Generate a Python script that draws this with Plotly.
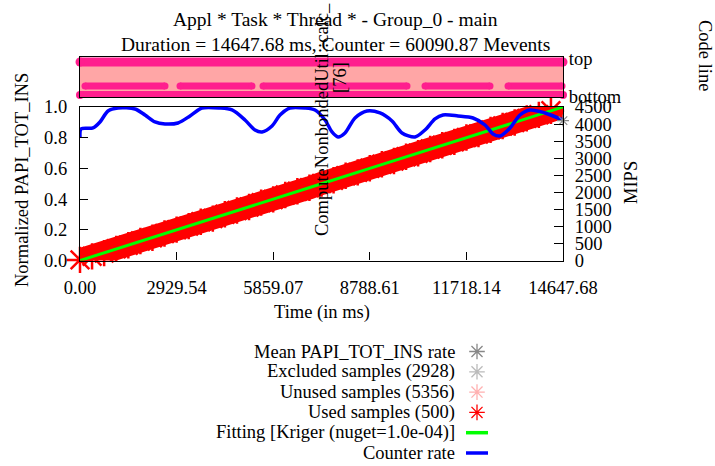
import plotly.graph_objects as go

W, H = 715, 466
FONT = "Liberation Serif"
FS = 18.5

# ---------------- data ----------------
title_line1 = "Appl * Task * Thread * - Group_0 - main"
duration_ms = 14647.68
counter_mevents = 60090.87
excluded_count = 2928
unused_count = 5356
used_count = 500
nugget = "1.0e-04"
code_label = "ComputeNonbondedUtil::calc_"
code_line_id = "[76]"

x_tick_vals = [0.00, 2929.54, 5859.07, 8788.61, 11718.14, 14647.68]
x_tick_text = ["0.00", "2929.54", "5859.07", "8788.61", "11718.14", "14647.68"]
norm_tick_vals = [0.0, 0.2, 0.4, 0.6, 0.8, 1.0]
mips_tick_vals = [0, 500, 1000, 1500, 2000, 2500, 3000, 3500, 4000, 4500]
strip_tick_vals = [0.0, 0.95]
strip_tick_text = ["bottom", "top"]

# used samples (normalized PAPI_TOT_INS vs time)
used_t = [0, 366, 732, 1099, 1465, 1831, 2197, 2563, 2930, 3296, 3662, 4028, 4394,
          4761, 5127, 5493, 5859, 6225, 6592, 6958, 7324, 7690, 8056, 8422, 8789,
          9155, 9521, 9887, 10253, 10620, 10986, 11352, 11718, 12084, 12451, 12817,
          13183, 13549, 13915, 14282, 14648]
used_norm = [0.004, 0.027, 0.048, 0.076, 0.099, 0.127, 0.148, 0.176, 0.201, 0.224,
             0.252, 0.273, 0.301, 0.326, 0.349, 0.377, 0.398, 0.427, 0.451, 0.474,
             0.502, 0.523, 0.552, 0.574, 0.601, 0.627, 0.648, 0.676, 0.699, 0.726,
             0.751, 0.773, 0.801, 0.824, 0.851, 0.876, 0.899, 0.926, 0.949, 0.976, 1.0]

# kriging fit
fit_t = [0, 1465, 2930, 4394, 5859, 7324, 8789, 10253, 11718, 13183, 14648]
fit_norm = [0.0, 0.099, 0.199, 0.299, 0.400, 0.500, 0.600, 0.700, 0.800, 0.900, 1.0]

# counter rate (MIPS)
rate_t = [0, 30, 394, 606, 849, 1152, 1668, 1971, 2274, 2578, 2972, 3336, 3700,
          4246, 4610, 5004, 5307, 5520, 5823, 6065, 6369, 6824, 7127, 7430, 7642,
          7824, 8037, 8340, 8704, 9098, 9462, 9765, 10159, 10463, 10766, 11009,
          11464, 11919, 12283, 12525, 12737, 13041, 13344, 13647, 14102, 14648]
rate_mips = [3621, 3856, 3885, 4061, 4383, 4471, 4442, 4266, 4061, 4002, 4032, 4237,
             4471, 4471, 4413, 4120, 3826, 3768, 3944, 4266, 4471, 4471, 4413, 4120,
             3768, 3621, 3738, 4178, 4383, 4325, 4090, 3738, 3621, 3826, 4149, 4266,
             4237, 4178, 3973, 3709, 3650, 3885, 4266, 4413, 4325, 4120]

mean_rate_mips = 4102.4

# code line strip (time spans of samples on each row)
strip_top_t = [0, 14647.68]
strip_top_y = 0.875
strip_bottom_t = [0, 14647.68]
strip_bottom_y = 0.05
strip_mid_start = [152, 3033, 5550, 10463, 12980]
strip_mid_end = [2578, 5216, 9917, 12434, 14618]
strip_mid_y = 0.275

legend_labels = [
    "Mean PAPI_TOT_INS rate",
    f"Excluded samples ({excluded_count})",
    f"Unused samples ({unused_count})",
    f"Used samples ({used_count})",
    f"Fitting [Kriger (nuget={nugget})]",
    "Counter rate",
]

# ---------------- styling ----------------
RED = "#ff0000"
GREEN = "#00ff00"
BLUE = "#0000ff"
PINK = "#ff1e8e"
LIGHTPINK = "#ffa6a6"
CLEAR = "rgba(0,0,0,0)"


def px(x):
    return x / W


def py(y):
    return 1 - y / H


X0, X1 = 80, 563
Y_BOT, Y_TOP = 260.5, 107
S_BOT, S_TOP = 97, 57

fig = go.Figure()

# ---- strip ----
fig.add_trace(go.Scatter(x=strip_bottom_t, y=[strip_bottom_y] * 2, mode="lines",
                         line=dict(color=LIGHTPINK, width=0), xaxis="x3", yaxis="y3",
                         showlegend=False, hoverinfo="skip"))
fig.add_trace(go.Scatter(x=strip_top_t, y=[strip_top_y] * 2, mode="lines", fill="tonexty",
                         fillcolor=LIGHTPINK, line=dict(color=LIGHTPINK, width=0),
                         xaxis="x3", yaxis="y3", showlegend=False, hoverinfo="skip"))
fig.add_trace(go.Scatter(x=strip_top_t, y=[strip_top_y] * 2, mode="lines+markers",
                         line=dict(color=PINK, width=9), marker=dict(color=PINK, size=9),
                         cliponaxis=False, xaxis="x3", yaxis="y3", showlegend=False))
fig.add_trace(go.Scatter(x=strip_bottom_t, y=[strip_bottom_y] * 2, mode="lines+markers",
                         line=dict(color=PINK, width=8), marker=dict(color=PINK, size=8),
                         cliponaxis=False, xaxis="x3", yaxis="y3", showlegend=False))
mid_x, mid_y = [], []
for s, e in zip(strip_mid_start, strip_mid_end):
    mid_x += [s, e, None]
    mid_y += [strip_mid_y, strip_mid_y, None]
fig.add_trace(go.Scatter(x=mid_x, y=mid_y, mode="lines+markers",
                         line=dict(color=PINK, width=7), marker=dict(color=PINK, size=7),
                         cliponaxis=False, xaxis="x3", yaxis="y3", showlegend=False))

# ---- main plot ----
fig.add_trace(go.Scatter(x=used_t, y=used_norm, mode="lines+markers",
                         line=dict(color=RED, width=23),
                         marker=dict(symbol="asterisk-open", size=22, color=RED,
                                     line=dict(color=RED, width=2.5)),
                         cliponaxis=False, xaxis="x", yaxis="y", showlegend=False))
fig.add_trace(go.Scatter(x=fit_t, y=fit_norm, mode="lines",
                         line=dict(color=GREEN, width=3), xaxis="x", yaxis="y",
                         showlegend=False))
fig.add_trace(go.Scatter(x=rate_t, y=rate_mips, mode="lines",
                         line=dict(color=BLUE, width=3.5, shape="spline", smoothing=0.8),
                         xaxis="x", yaxis="y2", showlegend=False))
fig.add_trace(go.Scatter(x=[duration_ms], y=[mean_rate_mips], mode="markers",
                         marker=dict(symbol="asterisk-open", size=10, color="#888888",
                                     line=dict(color="#888888", width=1.2)),
                         cliponaxis=False, xaxis="x", yaxis="y2", showlegend=False))

# ---- hand-made key (symbols on the right of the text, gnuplot style) ----
key_text_right = 457
key_sym_x = 477
key_row0 = 351.5
key_step = 20.3
star_colors = ["#888888", "#bbbbbb", "#ffb0b0", RED]
for i, lab in enumerate(legend_labels):
    yy = key_row0 + i * key_step
    fig.add_annotation(text=lab, x=px(key_text_right), y=py(yy), xref="paper", yref="paper",
                       xanchor="right", yanchor="middle", showarrow=False,
                       font=dict(family=FONT, size=FS, color="black"))
    if i < 4:
        fig.add_trace(go.Scatter(x=[key_sym_x], y=[yy], mode="markers",
                                 marker=dict(symbol="asterisk-open", size=13, color=star_colors[i],
                                             line=dict(color=star_colors[i], width=1.3)),
                                 xaxis="x4", yaxis="y4", showlegend=False, hoverinfo="skip"))
    else:
        col = GREEN if i == 4 else BLUE
        fig.add_trace(go.Scatter(x=[key_sym_x - 11, key_sym_x + 11], y=[yy, yy], mode="lines",
                                 line=dict(color=col, width=3.5),
                                 xaxis="x4", yaxis="y4", showlegend=False, hoverinfo="skip"))

axis_common = dict(showgrid=False, zeroline=False, showline=True, linecolor="black",
                   linewidth=1.2, tickcolor="black",
                   tickfont=dict(family=FONT, size=FS, color="black"))

fig.update_layout(
    width=W, height=H,
    margin=dict(l=0, r=0, t=0, b=0, autoexpand=False),
    paper_bgcolor="white", plot_bgcolor=CLEAR,
    font=dict(family=FONT, size=FS, color="black"),
    showlegend=False,
    xaxis=dict(domain=[px(X0), px(X1)], range=[0, duration_ms], anchor="y",
               tickmode="array", tickvals=x_tick_vals, ticktext=x_tick_text,
               ticks="inside", ticklen=8, mirror=True, ticklabelstandoff=10, **axis_common),
    yaxis=dict(domain=[py(Y_BOT), py(Y_TOP)], range=[0, 1], anchor="x",
               tickmode="array", tickvals=norm_tick_vals, tickformat=".1f",
               ticks="inside", ticklen=8, ticklabelstandoff=8, **axis_common),
    yaxis2=dict(overlaying="y", side="right", range=[0, 4500], anchor="x",
                tickmode="array", tickvals=mips_tick_vals,
                ticks="inside", ticklen=9, ticklabelstandoff=7, **axis_common),
    xaxis3=dict(domain=[px(X0), px(X1)], range=[0, duration_ms], anchor="y3",
                showticklabels=False, ticks="", mirror=True, **axis_common),
    yaxis3=dict(domain=[py(S_BOT), py(S_TOP)], range=[0, 1], anchor="x3", side="right",
                tickmode="array", tickvals=strip_tick_vals, ticktext=strip_tick_text,
                ticks="", mirror=True, ticklabelstandoff=1, **axis_common),
    xaxis4=dict(domain=[0, 1], range=[0, W], visible=False, fixedrange=True, anchor="y4"),
    yaxis4=dict(domain=[0, 1], range=[H, 0], visible=False, fixedrange=True, anchor="x4"),
)

ann_font = dict(family=FONT, size=FS, color="black")
title_font = dict(family=FONT, size=19.5, color="black")
texts = [
    (title_line1, 335, 20, 0, title_font),
    (f"Duration = {duration_ms:.2f} ms, Counter = {counter_mevents:.2f} Mevents", 335, 45, 0, title_font),
    ("Time (in ms)", 322, 312, 0, ann_font),
    ("Normalized PAPI_TOT_INS", 22, 180, -90, ann_font),
    ("MIPS", 631, 183, -90, ann_font),
    ("Code line", 705, 55, 90, ann_font),
    (code_label, 322, 120, -90, ann_font),
    (code_line_id, 340, 78, -90, ann_font),
]
for t, x, y, ang, f in texts:
    fig.add_annotation(text=t, x=px(x), y=py(y), xref="paper", yref="paper",
                       xanchor="center", yanchor="middle", showarrow=False,
                       textangle=ang, font=f)

fig.write_html("out.html",
               config={"displayModeBar": False},
               post_script="document.body.style.margin='0';document.body.style.overflow='hidden';")
